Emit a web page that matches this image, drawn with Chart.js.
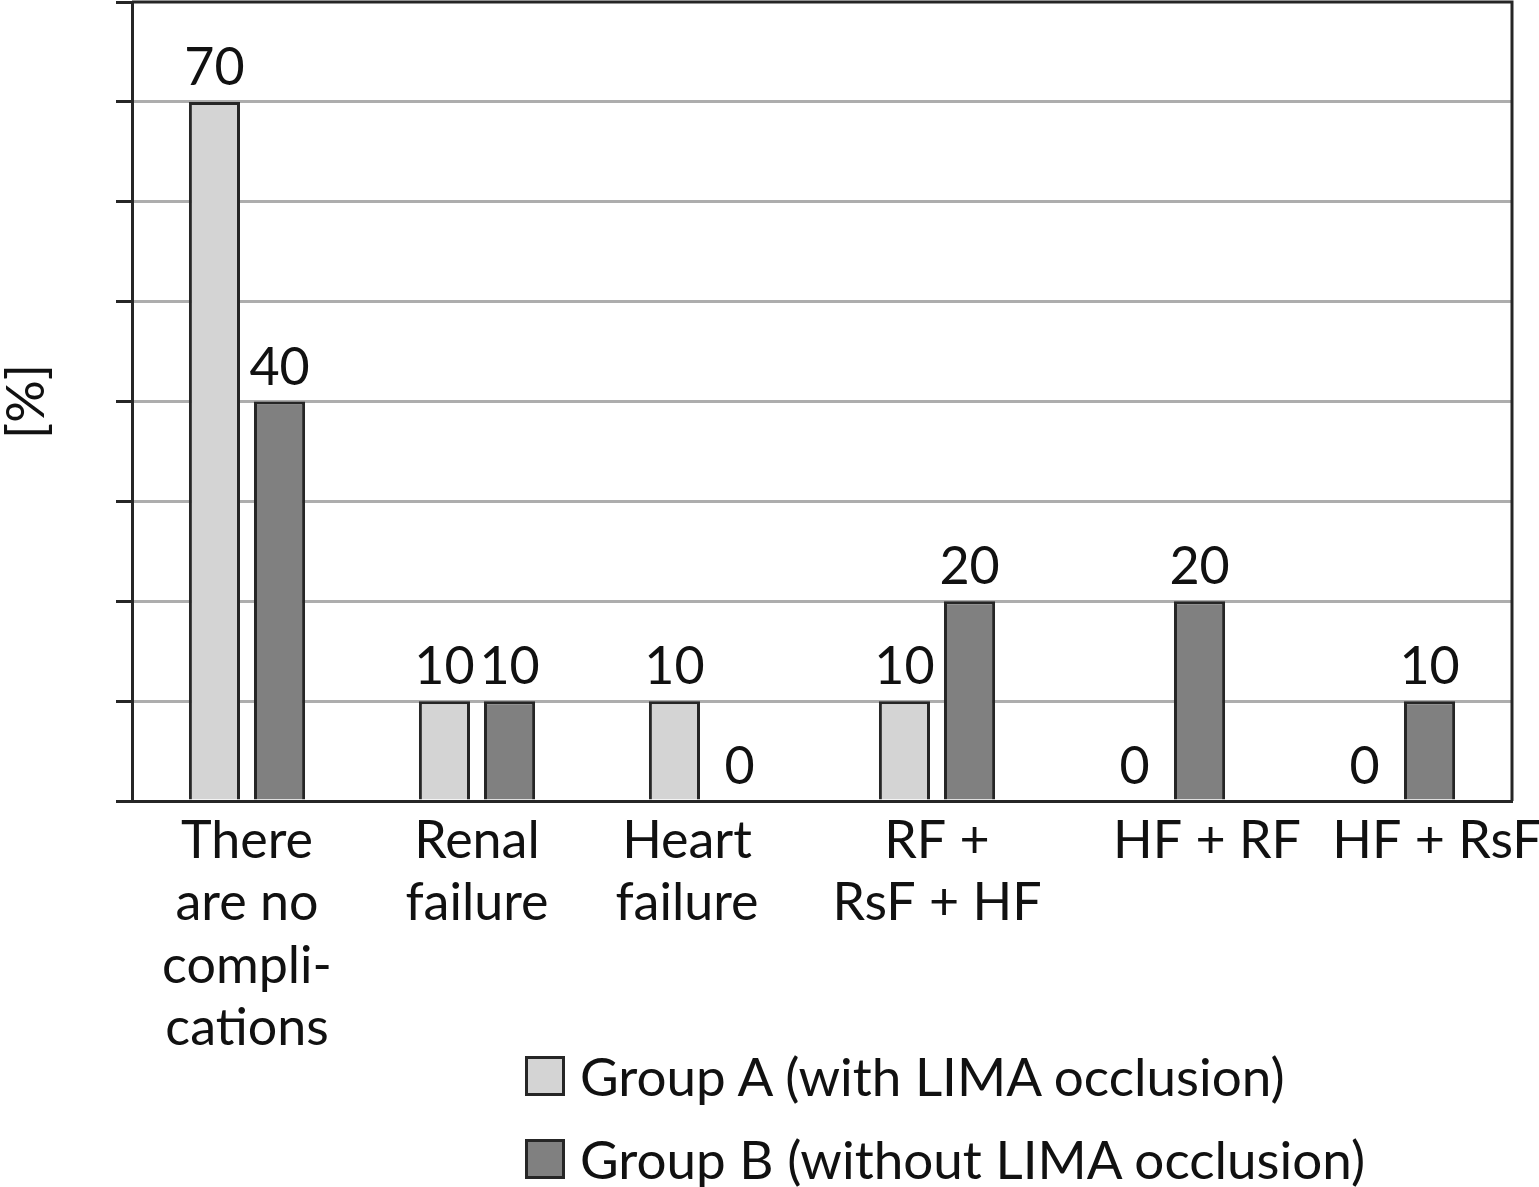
<!DOCTYPE html>
<html>
<head>
<meta charset="utf-8">
<script src="https://cdn.jsdelivr.net/npm/chart.js@4.4.1/dist/chart.umd.min.js"></script>
<style>
  html, body { margin: 0; padding: 0; background: #fff; }
  #wrap { position: relative; width: 1539px; height: 1187px; }
  #legend { position: absolute; left: 525px; top: 1034px; font-family: Lato, sans-serif; font-size: 53px; color: #111; }
  .item { display: flex; align-items: center; height: 83px; white-space: nowrap; }
  .swatch { width: 34px; height: 34px; border: 3px solid #262626; margin-right: 15px; flex: none; }
</style>
</head>
<body>
<div id="wrap">
  <canvas id="chart" width="1539" height="1187"></canvas>
  <div id="legend"></div>
</div>
<script>
// chart values
const categories = [
    ['There', 'are no', 'compli-', 'cations'],
    ['Renal', 'failure'],
    ['Heart', 'failure'],
    ['RF +', 'RsF + HF'],
    ['HF + RF'],
    ['HF + RsF']
];
const groupA = [70, 10, 10, 10, 0, 0];
const groupB = [40, 10, 0, 20, 20, 10];
const seriesNames = ['Group A (with LIMA occlusion)', 'Group B (without LIMA occlusion)'];
const yMin = 0;
const yMax = 80;
const yStep = 10;

// the original labels are not exactly centred under their bars
const labelNudge = [0, 0, -3, 0, 6, 6];   // in spaces, + moves right

const colorA = '#d4d4d4';
const colorB = '#808080';
const edge = '#262626';
const FONT = 'Lato';

function nudge(lines, n) {
    const pad = ' '.repeat(Math.abs(n));
    return lines.map(l => n > 0 ? pad + l : l + pad);
}

const valueLabels = {
    id: 'valueLabels',
    afterDatasetsDraw(chart) {
        const ctx = chart.ctx;
        ctx.save();
        ctx.font = `52px ${FONT}`;
        ctx.fillStyle = '#111';
        ctx.textAlign = 'center';
        ctx.textBaseline = 'alphabetic';
        chart.data.datasets.forEach((ds, i) => {
            chart.getDatasetMeta(i).data.forEach((bar, j) => {
                ctx.fillText(String(ds.data[j]), bar.x, bar.y - 17);
            });
        });
        ctx.restore();
    }
};

const frame = {
    id: 'frame',
    afterDraw(chart) {
        const { ctx, chartArea: a } = chart;
        ctx.save();
        ctx.strokeStyle = edge;
        ctx.lineWidth = 3;
        ctx.beginPath();
        ctx.moveTo(a.left, a.top);
        ctx.lineTo(a.right, a.top);
        ctx.lineTo(a.right, a.bottom);
        ctx.stroke();
        ctx.restore();
    }
};

const chart = new Chart(document.getElementById('chart'), {
    type: 'bar',
    data: {
        labels: categories,
        datasets: [
            { label: seriesNames[0], data: groupA, backgroundColor: colorA, borderColor: edge, borderWidth: 3 },
            { label: seriesNames[1], data: groupB, backgroundColor: colorB, borderColor: edge, borderWidth: 3 }
        ]
    },
    options: {
        responsive: false,
        animation: false,
        categoryPercentage: 0.566,
        barPercentage: 0.785,
        layout: { padding: { top: 2, right: 27, left: 0, bottom: 0 } },
        plugins: {
            legend: { display: false },
            tooltip: { enabled: false }
        },
        scales: {
            x: {
                grid: { display: false, drawTicks: false },
                border: { display: true, color: edge, width: 3 },
                ticks: {
                    color: '#111',
                    padding: 9,
                    maxRotation: 0,
                    autoSkip: false,
                    font: { family: FONT, size: 52, lineHeight: 1.2 },
                    callback: (v, i) => nudge(categories[i], labelNudge[i])
                },
                afterFit: (s) => {
                    s.height = 386;
                    s.paddingLeft = 0;
                    s.paddingRight = 0;
                }
            },
            y: {
                min: yMin,
                max: yMax,
                ticks: { stepSize: yStep, display: false },
                grid: {
                    color: (c) => (c.tick && (c.tick.value === yMin || c.tick.value === yMax)) ? 'rgba(0,0,0,0)' : '#adadad',
                    lineWidth: 3,
                    tickColor: edge,
                    tickLength: 16,
                    tickWidth: 3
                },
                border: { display: true, color: edge, width: 3 },
                title: {
                    display: true,
                    text: '[%]',
                    color: '#111',
                    padding: 0,
                    font: { family: FONT, size: 53, lineHeight: 1 }
                },
                afterFit: (s) => {
                    s.width = 132;
                    s.paddingTop = 0;
                    s.paddingBottom = 0;
                }
            }
        }
    },
    plugins: [valueLabels, frame]
});

// legend, stacked and left aligned as in the figure
const legendEl = document.getElementById('legend');
chart.data.datasets.forEach(ds => {
    const row = document.createElement('div');
    row.className = 'item';
    row.innerHTML = `<span class="swatch" style="background:${ds.backgroundColor}"></span><span>${ds.label}</span>`;
    legendEl.appendChild(row);
});
</script>
</body>
</html>
